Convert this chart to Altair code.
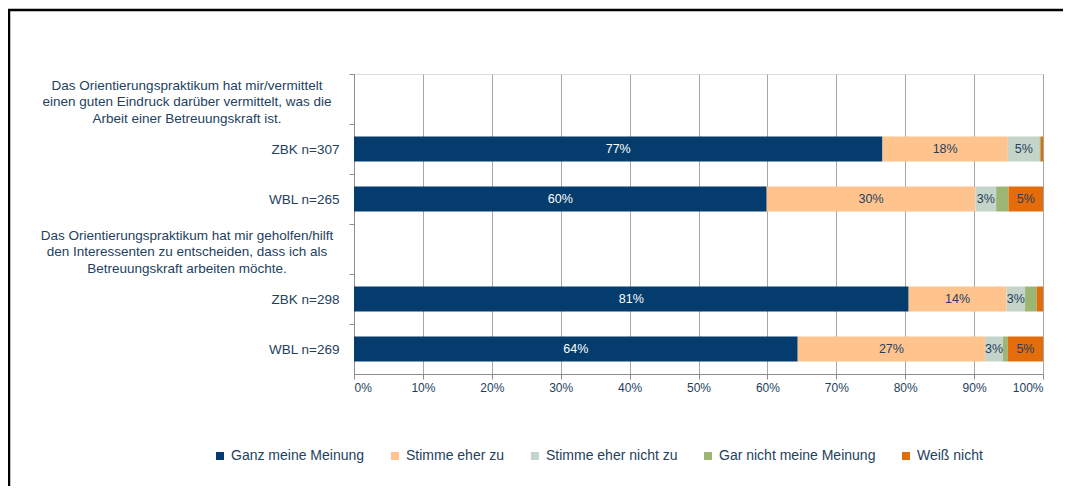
import altair as alt
import pandas as pd

# ---- data ----
rows = ["ZBK n=307", "WBL n=265", "ZBK n=298", "WBL n=269"]
series = ["Ganz meine Meinung", "Stimme eher zu", "Stimme eher nicht zu",
          "Gar nicht meine Meinung", "Weiß nicht"]
ganz = [76.7, 59.9, 80.5, 64.4]
eher = [18.2, 30.3, 14.2, 27.2]
eher_nicht = [4.6, 3.0, 2.7, 2.6]
gar_nicht = [0.2, 1.8, 1.7, 0.7]
weiss = [0.3, 5.0, 0.9, 5.1]
colors = ["#043C6E", "#FFC48E", "#C4D4C8", "#9DB572", "#E46C0A"]

header_keys = ["h1", "h2"]
header_texts = [
    "Das Orientierungspraktikum  hat mir/vermittelt\neinen guten Eindruck darüber  vermittelt, was die\nArbeit einer Betreuungskraft  ist.",
    "Das Orientierungspraktikum  hat mir geholfen/hilft\nden Interessenten  zu entscheiden, dass ich als\nBetreuungskraft  arbeiten  möchte.",
]
y_domain = ["h1", rows[0], rows[1], "h2", rows[2], rows[3]]
x_ticks = [i / 10 for i in range(11)]

TXT = "#243F60"
FONT = "Liberation Sans"

recs = []
for si, (s, vals) in enumerate(zip(series, [ganz, eher, eher_nicht, gar_nicht, weiss])):
    for r, v in zip(rows, vals):
        recs.append({"row": r, "series": s, "order": si, "value": v / 100.0})
df = pd.DataFrame(recs)
hdr = pd.DataFrame({"row": header_keys, "text": header_texts})

yscale = alt.Scale(domain=y_domain, paddingInner=0.5, paddingOuter=0.25)

base = alt.Chart(df).transform_stack(
    stack="value", as_=["x0", "x1"], groupby=["row"],
    sort=[alt.SortField("order", order="ascending")]
).transform_calculate(mid="(datum.x0 + datum.x1) / 2")

bars = base.mark_bar().encode(
    x=alt.X("x0:Q", scale=alt.Scale(domain=[0, 1], nice=False),
            axis=alt.Axis(values=x_ticks, format=".0%", title=None,
                          grid=True, gridColor="#A6A6A6", gridWidth=1,
                          domainColor="#8C8C8C", tickColor="#8C8C8C", tickSize=5,
                          labelColor=TXT, labelFontSize=12, labelFont=FONT,
                          labelPadding=3)),
    x2="x1:Q",
    y=alt.Y("row:N", scale=yscale, sort=y_domain,
            axis=alt.Axis(title=None, bandPosition=0, tickOffset=-12.5,
                          labelOffset=12.5, domainColor="#8C8C8C", tickColor="#8C8C8C",
                          tickSize=5, labelColor=TXT, labelFontSize=13.5, labelFont=FONT,
                          labelPadding=10,
                          labelExpr="indexof(datum.value, 'n=') >= 0 ? datum.value : ''")),
    color=alt.Color("series:N", scale=alt.Scale(domain=series, range=colors),
                    sort=series,
                    legend=alt.Legend(title=None, orient="none", direction="horizontal",
                                      legendX=-141, legendY=375, symbolType="square",
                                      symbolSize=64, symbolStrokeWidth=0,
                                      labelFontSize=14, labelFont=FONT, labelColor=TXT,
                                      columnPadding=23, labelOffset=4)),
    order=alt.Order("order:Q"),
)

labels = base.transform_filter("datum.value >= 0.025").mark_text(
    fontSize=12.5, font=FONT, baseline="middle", align="center"
).encode(
    x="mid:Q",
    y=alt.Y("row:N", scale=yscale, sort=y_domain),
    text=alt.Text("value:Q", format=".0%"),
    color=alt.condition("datum.order == 0", alt.value("white"), alt.value(TXT)),
)

headers = alt.Chart(hdr).mark_text(
    fontSize=13.5, font=FONT, color=TXT, align="center", baseline="middle",
    lineBreak="\n", lineHeight=16.5, dy=-13.5
).encode(
    x=alt.value(-167),
    y=alt.Y("row:N", scale=yscale, sort=y_domain),
    text="text:N",
)

frame = alt.Chart(pd.DataFrame({"a": [0]})).mark_rect(
    filled=False, stroke="black", strokeWidth=2.5
).encode(
    x=alt.value(-345), x2=alt.value(900), y=alt.value(-64), y2=alt.value(600)
)

chart = alt.layer(bars, labels, headers, frame).properties(
    width=689, height=300,
    autosize=alt.AutoSizeParams(type="none"),
    padding={"left": 346, "top": 66, "right": 20, "bottom": 112},
).configure_view(stroke=None).configure(background="white")

chart.save("out.html", embed_options={"renderer": "svg", "actions": False})
